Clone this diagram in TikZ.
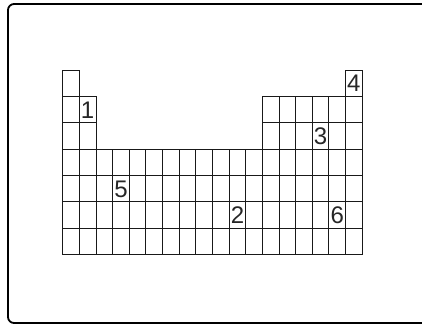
\documentclass[tikz,border=0pt]{standalone}
\usepackage{fontspec}
\setmainfont{Liberation Sans}
\usepackage{tikz}

\begin{document}
\begin{tikzpicture}[x=1pt, y=-1pt,
		cell/.style={draw=black!90, line width=0.9pt},
		num/.style={font=\fontsize{24}{24}\selectfont, text=black!85, inner sep=0pt},
		frame/.style={black, line width=1.8pt, rounded corners=6pt}]
		
		\useasboundingbox (0,0) rectangle (422,325);
		\clip (0,0) rectangle (422,325);
		\draw[frame] (8,4) rectangle (445,323);
		
		% table: 18 groups, 7 periods
		\begin{scope}[shift={(62.7,70)}, x=16.64pt, y=-26.33pt]
		\foreach \c in {1,18}
		\draw[cell] (\c-1,0) rectangle (\c,1);
		\foreach \r in {2,3}
		\foreach \c in {1,2,13,14,15,16,17,18}
		\draw[cell] (\c-1,\r-1) rectangle (\c,\r);
		\foreach \r in {4,...,7}
		\foreach \c in {1,...,18}
		\draw[cell] (\c-1,\r-1) rectangle (\c,\r);
		
		\node[num] (n1) at (1.5,1.52) {1};
		\node[num] (n2) at (10.5,5.52) {2};
		\node[num] (n3) at (15.5,2.52) {3};
		\node[num] (n4) at (17.5,0.52) {4};
		\node[num] (n5) at (3.5,4.52) {5};
		\node[num] (n6) at (16.5,5.52) {6};
		\end{scope}
		
	\end{tikzpicture}
\end{document}
